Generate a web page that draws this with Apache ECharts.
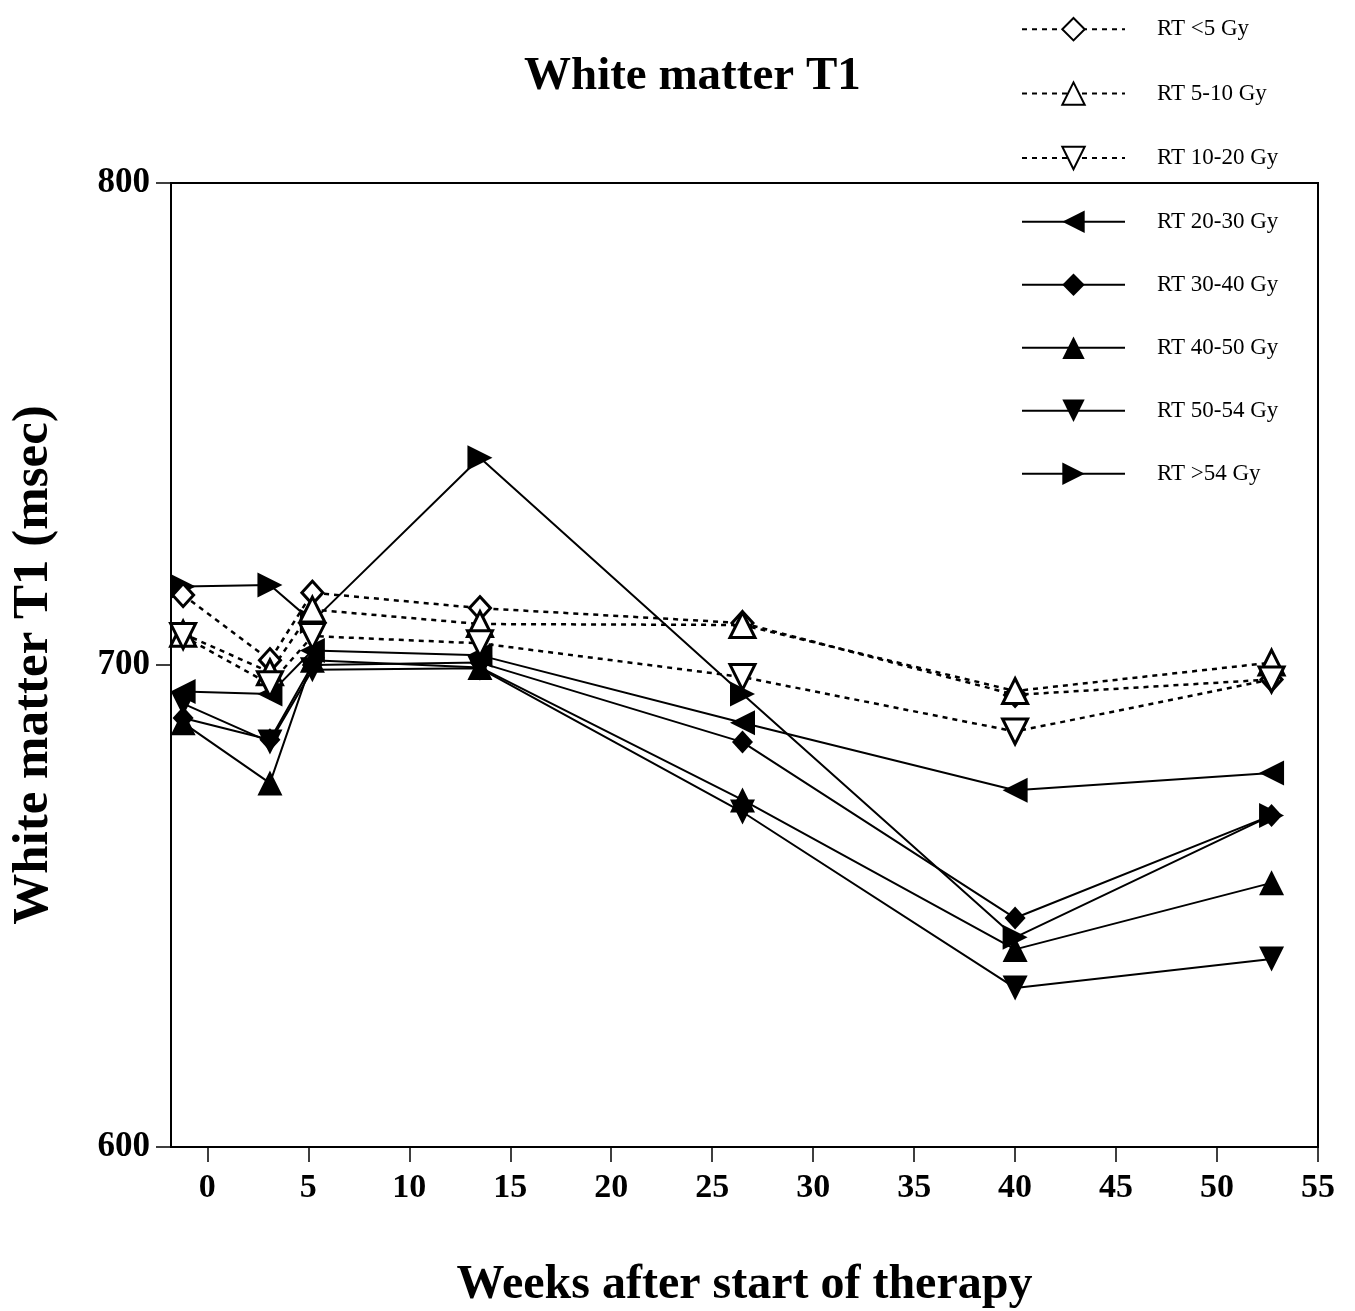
<!DOCTYPE html>
<html>
<head>
<meta charset="utf-8">
<script src="https://cdn.jsdelivr.net/npm/echarts@6/dist/echarts.min.js"></script>
<style>
  html, body { margin: 0; padding: 0; background: #fff; }
  #chart { width: 1355px; height: 1311px; }
</style>
</head>
<body>
<div id="chart"></div>
<script>
// weeks after start of therapy (x positions of each scan)
var weeks = [-1.2, 3.1, 5.2, 13.5, 26.5, 40, 52.7];
var xTicks = [0, 5, 10, 15, 20, 25, 30, 35, 40, 45, 50, 55];

// white matter T1 (msec) per dose group
var rtLt5 = [714.5, 701, 715, 711.8, 708.7, 693.8, 697];
var rt5to10 = [706.5, 698.5, 711.5, 708.5, 708.3, 694.6, 700.5];
var rt10to20 = [706, 696, 706, 704.5, 697.5, 686.2, 697];
var rt20to30 = [694.5, 694, 703, 702, 688, 674, 677.6];
var rt30to40 = [689, 684.5, 700, 700.5, 684, 647.5, 668.8];
var rt40to50 = [688, 675.5, 701, 699.5, 672, 641, 654.8];
var rt50to54 = [692, 684, 699, 699.3, 669.5, 633, 639];
var rtGt54 = [716.3, 716.6, 709, 743, 694, 643.5, 668.8];

var names = ['RT <5 Gy', 'RT 5-10 Gy', 'RT 10-20 Gy', 'RT 20-30 Gy',
    'RT 30-40 Gy', 'RT 40-50 Gy', 'RT 50-54 Gy', 'RT >54 Gy'];
var values = [rtLt5, rt5to10, rt10to20, rt20to30, rt30to40, rt40to50, rt50to54, rtGt54];
// symbol, rotation, hollow, dotted
var marks = [
    ['diamond', 0, true, true],
    ['triangle', 0, true, true],
    ['triangle', 180, true, true],
    ['triangle', 90, false, false],
    ['diamond', 0, false, false],
    ['triangle', 0, false, false],
    ['triangle', 180, false, false],
    ['triangle', -90, false, false]
];

var serif = "'Liberation Serif', 'DejaVu Serif', serif";

var series = [];
for (var i = 0; i < names.length; i++) {
    var pts = [];
    for (var j = 0; j < weeks.length; j++) {
        pts.push([weeks[j], values[i][j]]);
    }
    var m = marks[i];
    series.push({
        name: names[i],
        type: 'line',
        data: pts,
        symbol: m[0],
        symbolRotate: m[1],
        symbolSize: m[0] === 'diamond' ? [21, 23] : 25,
        showAllSymbol: true,
        z: m[2] ? 3 : 2,
        lineStyle: {
            color: '#000',
            width: m[3] ? 2.5 : 2,
            type: m[3] ? [5, 5] : 'solid'
        },
        itemStyle: {
            color: m[2] ? '#fff' : '#000',
            borderColor: '#000',
            borderWidth: m[2] ? 3 : 0
        },
        emphasis: { disabled: true },
        animation: false
    });
}

var oChart = echarts.init(document.getElementById('chart'));
var chartopt = {
    backgroundColor: '#fff',
    animation: false,
    title: {
        text: 'White matter T1',
        left: 519,
        top: 48,
        textStyle: {
            fontFamily: serif,
            fontSize: 47,
            fontWeight: 'bold',
            color: '#000'
        }
    },
    legend: {
        orient: 'vertical',
        left: 1016,
        top: 12,
        itemWidth: 103,
        itemHeight: 28,
        itemGap: 40,
        selectedMode: false,
        textStyle: {
            fontFamily: serif,
            fontSize: 23,
            color: '#000',
            padding: [0, 0, 0, 27]
        },
        data: names
    },
    grid: {
        show: true,
        left: 171,
        right: 37,
        top: 183,
        bottom: 164,
        outerBoundsMode: 'none',
        containLabel: false,
        borderColor: '#000',
        borderWidth: 2,
        backgroundColor: 'transparent'
    },
    xAxis: {
        type: 'value',
        min: -1.8,
        max: 55,
        name: 'Weeks after start of therapy',
        nameLocation: 'middle',
        nameGap: 115,
        nameTextStyle: {
            fontFamily: serif,
            fontSize: 48,
            fontWeight: 'bold',
            color: '#000'
        },
        axisLine: { show: true, onZero: false, lineStyle: { color: '#000', width: 2 } },
        axisTick: {
            show: true,
            length: 15,
            customValues: xTicks,
            lineStyle: { color: '#000', width: 1.5 }
        },
        axisLabel: {
            customValues: xTicks,
            margin: 24,
            fontFamily: serif,
            fontSize: 34,
            fontWeight: 'bold',
            color: '#000'
        },
        splitLine: { show: false }
    },
    yAxis: {
        type: 'value',
        min: 600,
        max: 800,
        interval: 100,
        name: 'White matter T1 (msec)',
        nameLocation: 'middle',
        nameGap: 112,
        nameRotate: 90,
        nameTextStyle: {
            fontFamily: serif,
            fontSize: 51,
            fontWeight: 'bold',
            color: '#000'
        },
        axisLine: { show: true, onZero: false, lineStyle: { color: '#000', width: 2 } },
        axisTick: { show: true, length: 15, lineStyle: { color: '#000', width: 1.5 } },
        axisLabel: {
            margin: 21,
            fontFamily: serif,
            fontSize: 35,
            fontWeight: 'bold',
            color: '#000'
        },
        splitLine: { show: false }
    },
    series: series
};
oChart.setOption(chartopt);
</script>
</body>
</html>
